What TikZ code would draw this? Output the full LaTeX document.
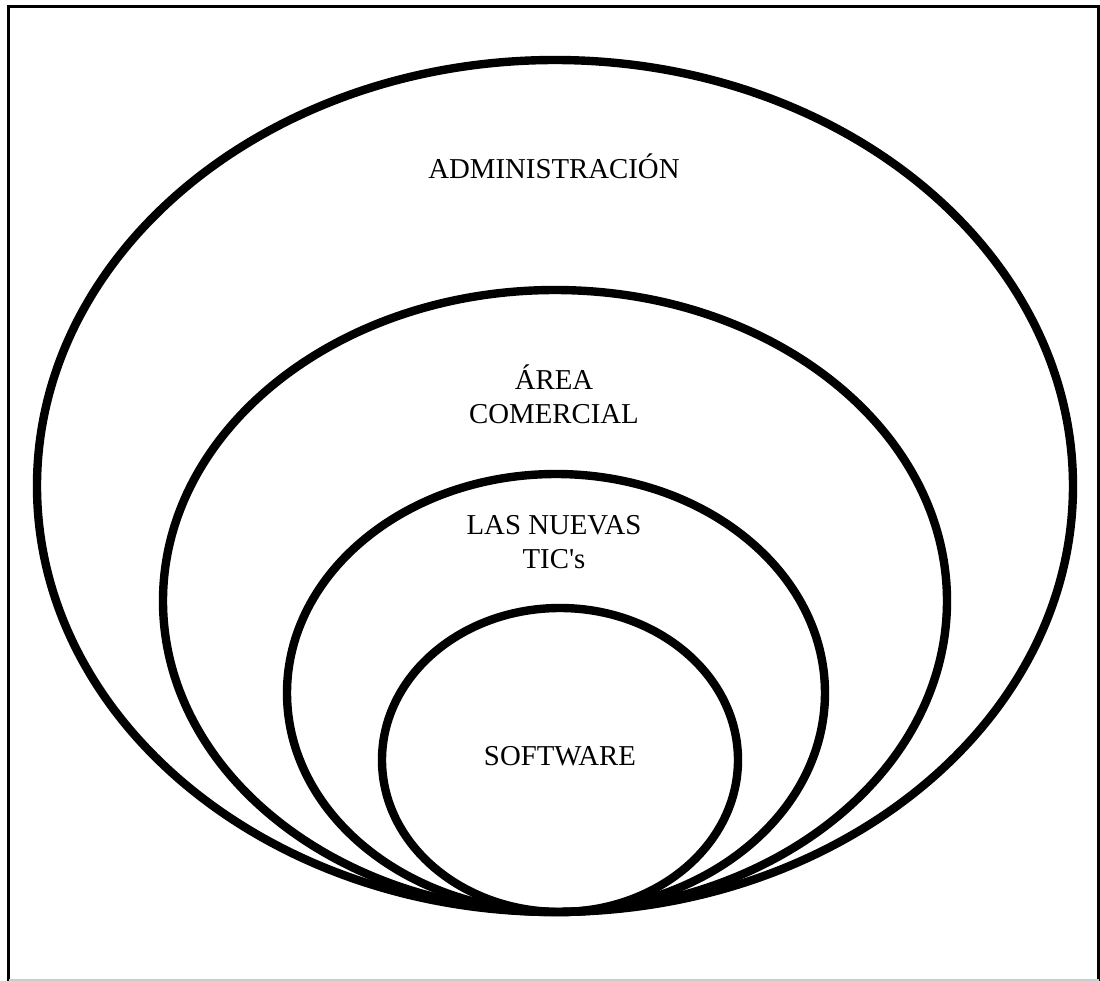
\documentclass[tikz,border=0pt]{standalone}
\usepackage{fontspec}
\setmainfont{Liberation Serif}[Ligatures=TeXOff]
\usetikzlibrary{positioning}
\tikzset{
  ring/.style={draw=black, line width=4.2pt},
  label/.style={align=center, font=\fontsize{14.4}{17}\selectfont, inner sep=0pt}
}
\begin{document}
\begin{tikzpicture}[x=0.5pt, y=-0.5pt]
  \useasboundingbox (0,0) rectangle (1100,981);
  \draw [line width=1.8pt] (8.5,981) -- (8.5,6.5) -- (1098.5,6.5) -- (1098.5,981);
  \draw [gray!40, line width=1pt] (8.5,979.5) -- (1098.5,979.5);

  % nested circles, all touching at the bottom
  \draw [ring] (555,486) ellipse [x radius=518, y radius=426];
  \draw [ring] (555,601) ellipse [x radius=392, y radius=311];
  \draw [ring] (556,693) ellipse [x radius=269, y radius=219];
  \draw [ring] (560,760) ellipse [x radius=178, y radius=152];

  \node [label] (admin) at (554,166) {ADMINISTRACIÓN};
  \node [label] (comercial) at (554,394) {ÁREA\\COMERCIAL};
  \node [label] (tics) at (554,542) {LAS NUEVAS\\TIC's};
  \node [label] (software) at (560,756) {SOFTWARE};
\end{tikzpicture}
\end{document}
